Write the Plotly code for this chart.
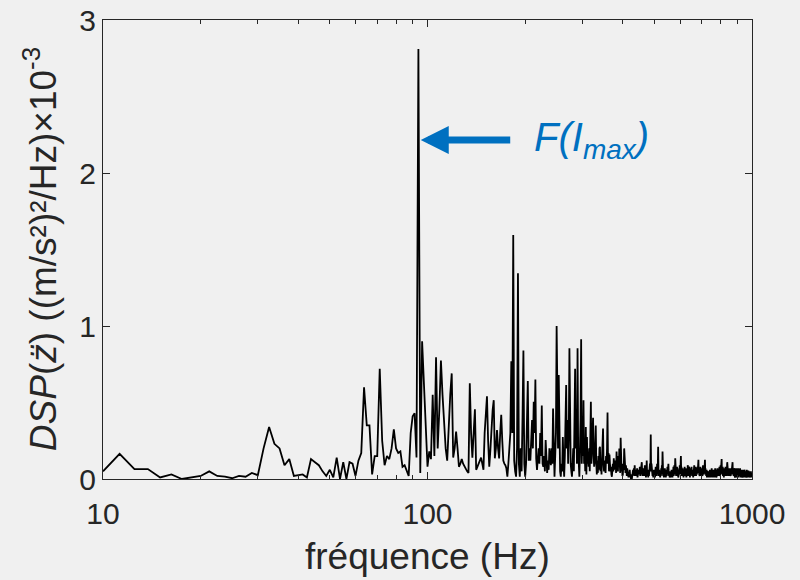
import math
import plotly.graph_objects as go

# ---------------- data (PSD values in 1e-3 (m/s^2)^2/Hz) ----------------
F0 = 10.0      # first frequency bin (Hz)
DF = 1.25      # frequency resolution (Hz)

# 10 Hz -> 100 Hz
psd_a = [0.05, 0.165, 0.065, 0.065, 0.01, 0.03, 0.0, 0.01, 0.02, 0.05,
         0.02, 0.015, 0.005, 0.02, 0.015, 0.04, 0.025,
         0.2, 0.34, 0.23, 0.2, 0.09, 0.13, 0.02, 0.025, 0.03, 0.01,
         0.13, 0.11, 0.09, 0.05, 0.02, 0.06, 0.01, 0.14, 0.0, 0.11,
         0.0, 0.11, 0.10, 0.02, 0.12, 0.17, 0.6, 0.35, 0.35, 0.03,
         0.15, 0.15, 0.72, 0.25, 0.09, 0.15, 0.13, 0.2, 0.325, 0.2,
         0.17, 0.18, 0.08, 0.09, 0.06, 0.02, 0.3, 0.41, 0.43, 0.14,
         2.81, 0.04, 0.9, 0.6, 0.3, 0.08]

# 101.25 Hz -> 300 Hz
psd_b = [0.18, 0.13, 0.55, 0.15, 0.795, 0.2, 0.45, 0.775, 0.55, 0.35,
         0.2, 0.12, 0.35, 0.55, 0.69, 0.14, 0.2, 0.31, 0.2, 0.08,
         0.1, 0.13, 0.1, 0.08, 0.06, 0.05, 0.04, 0.625, 0.3, 0.14,
         0.3, 0.455, 0.06, 0.08, 0.1, 0.12, 0.14, 0.1, 0.06, 0.3,
         0.45, 0.54, 0.25, 0.08, 0.19, 0.35, 0.45, 0.515, 0.135, 0.2,
         0.32, 0.2, 0.135, 0.3, 0.42, 0.25, 0.12, 0.1, 0.09, 0.07,
         0.015, 0.1, 0.22, 0.30, 0.77, 0.3, 1.595, 0.12, 0.05, 0.015,
         0.2, 1.345, 0.1, 0.015, 0.2, 0.05, 0.4, 0.84, 0.1, 0.015,
         0.1, 0.3, 0.64, 0.12, 0.2, 0.12, 0.3, 0.385, 0.2, 0.505,
         0.3, 0.65, 0.135, 0.06, 0.135, 0.2, 0.1, 0.3, 0.15, 0.48,
         0.1, 0.08, 0.15, 0.05, 0.255, 0.1, 0.04, 0.12, 0.06, 0.2,
         0.12, 0.09, 0.2, 0.1, 0.46, 0.1, 0.015, 0.15, 0.3, 1.0,
         0.68, 0.2, 0.68, 0.1, 0.05, 0.015, 0.1, 0.05, 0.275, 0.1,
         0.015, 0.15, 0.3, 0.615, 0.2, 0.385, 0.1, 0.3, 0.855, 0.2,
         0.1, 0.05, 0.015, 0.1, 0.2, 0.05, 0.3, 0.72, 0.2, 0.4,
         0.1, 0.855, 0.2, 0.1, 0.015, 0.2, 0.4, 0.913, 0.1, 0.3]

# 301.25 Hz -> 400 Hz
psd_c = [0.15, 0.515, 0.1, 0.2, 0.05, 0.34, 0.03, 0.275, 0.1, 0.15,
         0.08, 0.2, 0.05, 0.3, 0.505, 0.1, 0.2, 0.35, 0.4, 0.15,
         0.08, 0.12, 0.2, 0.35, 0.1, 0.03, 0.12, 0.04, 0.15, 0.06,
         0.2, 0.21, 0.05, 0.12, 0.03, 0.15, 0.2, 0.33, 0.1, 0.05,
         0.12, 0.08, 0.04, 0.15, 0.1, 0.2, 0.435, 0.1, 0.17, 0.05,
         0.16, 0.1, 0.05, 0.08, 0.03, 0.015, 0.06, 0.1, 0.05, 0.135,
         0.08, 0.12, 0.06, 0.1, 0.04, 0.18, 0.08, 0.12, 0.05, 0.15,
         0.08, 0.2, 0.1, 0.04, 0.27, 0.12, 0.05, 0.1, 0.02, 0.03]

# 401.25 Hz -> 1000 Hz
psd_d = [0.1, 0.06, 0.2, 0.08, 0.12, 0.04, 0.09, 0.06, 0.02, 0.07, 0.03, 0.05, 0.01, 0.04, 0.02, 0.06, 0.01, 0.03, 0.0, 0.02,
         0.0, 0.04, 0.02, 0.06, 0.03, 0.07, 0.02, 0.09, 0.04, 0.06, 0.02, 0.05, 0.03, 0.07, 0.01, 0.04, 0.02, 0.06, 0.03, 0.05,
         0.08, 0.02, 0.06, 0.03, 0.07, 0.11, 0.04, 0.02, 0.05, 0.03, 0.07, 0.02, 0.05, 0.09, 0.03, 0.06, 0.01, 0.05, 0.12, 0.04,
         0.02, 0.06, 0.01, 0.04, 0.02, 0.08, 0.03, 0.1, 0.05, 0.29, 0.06, 0.1, 0.03, 0.06, 0.02, 0.05, 0.01, 0.03, 0.06, 0.02,
         0.04, 0.01, 0.05, 0.08, 0.03, 0.06, 0.02, 0.1, 0.04, 0.08, 0.21, 0.05, 0.02, 0.06, 0.03, 0.04, 0.01, 0.05, 0.02, 0.07,
         0.03, 0.09, 0.04, 0.18, 0.05, 0.02, 0.06, 0.01, 0.04, 0.02, 0.07, 0.03, 0.05, 0.01, 0.03, 0.06, 0.02, 0.04, 0.08, 0.03,
         0.06, 0.1, 0.04, 0.02, 0.05, 0.01, 0.03, 0.02, 0.05, 0.01, 0.03, 0.06, 0.02, 0.04, 0.01, 0.05, 0.03, 0.08, 0.02, 0.05,
         0.09, 0.03, 0.06, 0.135, 0.04, 0.07, 0.02, 0.05, 0.03, 0.08, 0.02, 0.04, 0.06, 0.01, 0.05, 0.03, 0.07, 0.04, 0.09, 0.03,
         0.06, 0.1, 0.15, 0.05, 0.08, 0.02, 0.06, 0.03, 0.07, 0.02, 0.05, 0.01, 0.04, 0.06, 0.02, 0.08, 0.03, 0.05, 0.02, 0.07,
         0.04, 0.01, 0.05, 0.03, 0.06, 0.02, 0.09, 0.04, 0.06, 0.02, 0.05, 0.08, 0.03, 0.06, 0.01, 0.04, 0.07, 0.02, 0.05, 0.03,
         0.08, 0.04, 0.02, 0.06, 0.03, 0.05, 0.01, 0.04, 0.06, 0.03, 0.09, 0.04, 0.02, 0.05, 0.08, 0.03, 0.06, 0.02, 0.04, 0.07,
         0.03, 0.05, 0.08, 0.04, 0.06, 0.1, 0.125, 0.05, 0.07, 0.03, 0.05, 0.02, 0.06, 0.04, 0.08, 0.03, 0.05, 0.02, 0.04, 0.07,
         0.03, 0.06, 0.02, 0.05, 0.09, 0.04, 0.06, 0.03, 0.07, 0.04, 0.08, 0.1, 0.125, 0.05, 0.07, 0.03, 0.05, 0.02, 0.04, 0.06,
         0.01, 0.03, 0.05, 0.02, 0.04, 0.01, 0.03, 0.05, 0.02, 0.04, 0.01, 0.03, 0.06, 0.02, 0.04, 0.01, 0.05, 0.03, 0.06, 0.04,
         0.07, 0.02, 0.05, 0.01, 0.03, 0.06, 0.02, 0.04, 0.01, 0.05, 0.02, 0.06, 0.03, 0.01, 0.04, 0.07, 0.02, 0.05, 0.03, 0.06,
         0.01, 0.04, 0.02, 0.05, 0.03, 0.07, 0.02, 0.04, 0.06, 0.03, 0.05, 0.02, 0.07, 0.04, 0.08, 0.03, 0.05, 0.02, 0.06, 0.09,
         0.04, 0.07, 0.1, 0.05, 0.13, 0.06, 0.03, 0.07, 0.04, 0.08, 0.02, 0.05, 0.03, 0.06, 0.01, 0.04, 0.07, 0.03, 0.05, 0.02,
         0.06, 0.04, 0.08, 0.03, 0.05, 0.07, 0.02, 0.06, 0.04, 0.08, 0.11, 0.05, 0.07, 0.03, 0.05, 0.02, 0.04, 0.06, 0.02, 0.05,
         0.03, 0.07, 0.04, 0.02, 0.05, 0.03, 0.06, 0.02, 0.04, 0.07, 0.03, 0.05, 0.08, 0.04, 0.06, 0.09, 0.11, 0.05, 0.07, 0.03,
         0.06, 0.02, 0.05, 0.07, 0.03, 0.06, 0.02, 0.05, 0.01, 0.04, 0.07, 0.02, 0.05, 0.01, 0.04, 0.06, 0.02, 0.05, 0.03, 0.07,
         0.01, 0.04, 0.06, 0.02, 0.07, 0.03, 0.01, 0.05, 0.02, 0.06, 0.03, 0.05, 0.02, 0.05, 0.07, 0.02, 0.05, 0.01, 0.04, 0.06,
         0.02, 0.05, 0.01, 0.04, 0.02, 0.06, 0.01, 0.04, 0.06, 0.02, 0.05, 0.01, 0.04, 0.02, 0.05, 0.01, 0.04, 0.06, 0.02, 0.05,
         0.01, 0.04, 0.02, 0.05, 0.01, 0.04, 0.02, 0.05, 0.01, 0.04, 0.06, 0.02, 0.05, 0.01, 0.04, 0.02, 0.05, 0.03, 0.05, 0.055,
         0.02, 0.05, 0.01, 0.04, 0.02, 0.05, 0.01, 0.04, 0.02, 0.05, 0.01, 0.04, 0.02, 0.05, 0.01, 0.04, 0.02, 0.04, 0.01, 0.02]

assert len(psd_a) == 73, len(psd_a)
assert len(psd_b) == 160, len(psd_b)
assert len(psd_c) == 80, len(psd_c)
assert len(psd_d) == 480, len(psd_d)

psd = psd_a + psd_b + psd_c + psd_d
freq = [F0 + DF * i for i in range(len(psd))]

x_tickvals = [10, 100, 1000]
x_ticktext = ["10", "100", "1000"]
x_minorvals = [20, 30, 40, 50, 60, 70, 80, 90, 200, 300, 400, 500, 600, 700, 800, 900]
y_tickvals = [0, 1, 2, 3]
y_ticktext = ["0", "1", "2", "3"]

peak_freq = 95.3      # arrow tip (Hz), right of the 93.75 Hz peak
peak_arrow_y = 2.216  # arrow height (1e-3 units)
label_freq = 209.5    # left edge of the F(I_max) label (Hz)

x_title = "fréquence (Hz)"
y_title = "<i>DSP</i>(<i>z̈</i>) ((m/s²)²/Hz)×10<sup>-3</sup>"
peak_label = "<i>F(I<sub>max</sub>)</i>"

# ---------------- figure ----------------
FONT = "Liberation Sans, Arial, Helvetica, sans-serif"
AX = "#262626"
BLUE = "#0070C0"
BG = "#f0f0f0"

fig = go.Figure()
fig.add_trace(go.Scatter(x=freq, y=psd, mode="lines",
                         line=dict(color="black", width=1.8),
                         hoverinfo="skip", showlegend=False))

fig.update_layout(
    width=800, height=580,
    margin=dict(l=103, r=48, t=20, b=101, autoexpand=False),
    paper_bgcolor=BG, plot_bgcolor=BG,
    font=dict(family=FONT, color=AX, size=30),
    showlegend=False,
)

fig.update_xaxes(
    type="log", range=[1, 3], automargin=False,
    tickmode="array", tickvals=x_tickvals, ticktext=x_ticktext,
    ticks="inside", ticklen=7, tickwidth=1, tickcolor=AX,
    ticklabelstandoff=8,
    showline=True, linecolor=AX, linewidth=1, mirror="ticks",
    showgrid=False, zeroline=False,
    tickfont=dict(size=30, color=AX, family=FONT),
    minor=dict(tickmode="array", tickvals=x_minorvals, ticks="inside",
               ticklen=4, tickwidth=1, tickcolor=AX, showgrid=False),
)
fig.update_yaxes(
    range=[0, 3], automargin=False,
    tickmode="array", tickvals=y_tickvals, ticktext=y_ticktext,
    ticks="inside", ticklen=7, tickwidth=1, tickcolor=AX,
    showline=True, linecolor=AX, linewidth=1, mirror="ticks",
    showgrid=False, zeroline=False,
    tickfont=dict(size=30, color=AX, family=FONT),
)

fig.add_annotation(xref="paper", yref="paper", x=0.5, y=-0.168,
                   text=x_title, showarrow=False, xanchor="center", yanchor="middle",
                   font=dict(size=37, color=AX, family=FONT))
fig.add_annotation(xref="paper", yref="paper", x=-0.096, y=0.5,
                   text=y_title, showarrow=False, textangle=-90,
                   xanchor="center", yanchor="middle",
                   font=dict(size=37, color=AX, family=FONT))
# arrow
fig.add_annotation(xref="x", yref="y", x=math.log10(peak_freq), y=peak_arrow_y,
                   ax=91, ay=0, text="", showarrow=True,
                   arrowhead=2, arrowsize=0.8, arrowwidth=7, arrowcolor=BLUE)
# label
fig.add_annotation(xref="x", yref="y", x=math.log10(label_freq), y=peak_arrow_y,
                   text=peak_label, showarrow=False, xanchor="left", yanchor="middle",
                   font=dict(size=40, color=BLUE, family=FONT))

fig.write_html("out.html")
